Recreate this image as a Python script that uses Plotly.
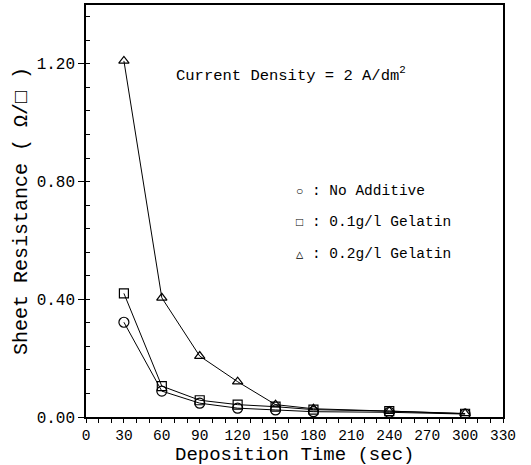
import plotly.graph_objects as go

time_sec = [30, 60, 90, 120, 150, 180, 240, 300]
no_additive = [0.322, 0.088, 0.047, 0.030, 0.024, 0.018, 0.016, 0.010]
gelatin_01 = [0.420, 0.105, 0.057, 0.042, 0.035, 0.025, 0.020, 0.011]
gelatin_02 = [1.210, 0.405, 0.207, 0.120, 0.042, 0.028, 0.020, 0.012]

x_ticks = list(range(0, 331, 30))
y_ticks = [0.0, 0.4, 0.8, 1.2]
y_tick_labels = ["0.00", "0.40", "0.80", "1.20"]

series = [
    ("No Additive", no_additive, "circle-open", 10),
    ("0.1g/l Gelatin", gelatin_01, "square-open", 9),
    ("0.2g/l Gelatin", gelatin_02, "triangle-up-open", 9),
]

fig = go.Figure()
for name, vals, sym, sz in series:
    fig.add_trace(go.Scatter(
        x=time_sec, y=vals, mode="lines+markers", name=name,
        line=dict(color="black", width=1),
        marker=dict(symbol=sym, size=sz, color="black", line=dict(width=1.2, color="black")),
        showlegend=False,
    ))

mono = "Liberation Mono, Courier New, monospace"

fig.update_layout(
    width=531, height=465,
    margin=dict(l=86, r=28, t=5, b=48),
    paper_bgcolor="white", plot_bgcolor="white",
    font=dict(family=mono, color="black"),
    xaxis=dict(
        range=[0, 330], tickvals=x_ticks, ticktext=[str(v) for v in x_ticks],
        showgrid=False, zeroline=False, showline=True, linecolor="black", linewidth=1.5,
        mirror=True, ticks="outside", ticklen=4, tickwidth=1, tickcolor="black",
        minor=dict(dtick=10, ticks="outside", ticklen=4, tickcolor="black"),
        tickfont=dict(family=mono, size=14.5),
        automargin=False,
    ),
    yaxis=dict(
        range=[0, 1.40], tickvals=y_ticks, ticktext=y_tick_labels,
        showgrid=False, zeroline=False, showline=True, linecolor="black", linewidth=1.5,
        mirror=True, ticks="outside", ticklen=6, tickwidth=1, tickcolor="black",
        minor=dict(dtick=0.08, ticks="inside", ticklen=4, tickcolor="black"),
        tickfont=dict(family=mono, size=16),
        automargin=False,
        title=dict(text="Sheet Resistance ( Ω/□ )", font=dict(family=mono, size=20), standoff=4),
    ),
)

plot_l, plot_r, plot_t, plot_b = 86, 503, 5, 417
def px_to_paper(px, py):
    return (px - plot_l) / (plot_r - plot_l), (plot_b - py) / (plot_b - plot_t)

# x-axis title placed below the tick labels
tx, ty = px_to_paper(294, 455)
fig.add_annotation(
    x=tx, y=ty, xref="paper", yref="paper", text="Deposition Time (sec)",
    showarrow=False, font=dict(family=mono, size=19), xanchor="center", yanchor="middle",
)

ax, ay = px_to_paper(174, 74)
fig.add_annotation(
    x=ax, y=ay, xref="paper", yref="paper", text="Current Density = 2 A/dm<sup>2</sup>",
    showarrow=False, font=dict(family=mono, size=15.5), xanchor="left", yanchor="middle",
)

legend_items = [("○", "No Additive", 191), ("□", "0.1g/l Gelatin", 222), ("△", "0.2g/l Gelatin", 254)]
for symb, label, py in legend_items:
    lx, ly = px_to_paper(294, py)
    fig.add_annotation(
        x=lx, y=ly, xref="paper", yref="paper",
        text=f"<span style='font-size:12px'>{symb}</span> : {label}",
        showarrow=False, font=dict(family=mono, size=14.5), xanchor="left", yanchor="middle",
    )

fig.write_html(
    "out.html",
    config={"displayModeBar": False},
    post_script="document.body.style.margin='0';document.body.style.overflow='hidden';",
)
